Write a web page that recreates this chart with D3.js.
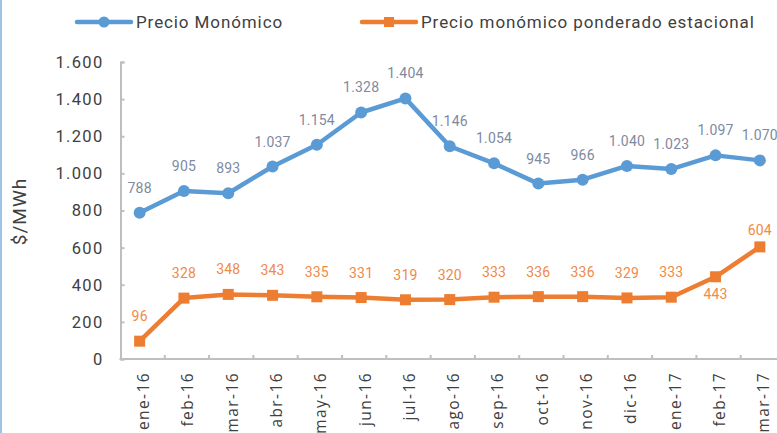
<!DOCTYPE html>
<html>
<head>
<meta charset="utf-8">
<script src="https://cdn.jsdelivr.net/npm/d3@7"></script>
<style>
  body { margin: 0; background: #fff; }
  svg { display: block; }
</style>
</head>
<body>
<svg id="chart"></svg>
<script>
"use strict";

// meses del eje x
var meses = ["ene-16", "feb-16", "mar-16", "abr-16", "may-16", "jun-16", "jul-16", "ago-16",
             "sep-16", "oct-16", "nov-16", "dic-16", "ene-17", "feb-17", "mar-17"];
// $/MWh
var precioMonomico = [788, 905, 893, 1037, 1154, 1328, 1404, 1146, 1054, 945, 966, 1040, 1023, 1097, 1070];
var precioPonderado = [96, 328, 348, 343, 335, 331, 319, 320, 333, 336, 336, 329, 333, 443, 604];
var yTicks = [0, 200, 400, 600, 800, 1000, 1200, 1400, 1600];

var Draw = (function() {

  var width = 777, height = 433;
  var margin = {top: 62, left: 120.5, bottom: 74};
  var blue = "#5b9bd5", orange = "#ed7d31", axisColor = "#bfbfbf", textColor = "#404040";

  var es = d3.formatLocale({decimal: ",", thousands: ".", grouping: [3], currency: ["$", ""]});
  var fmt = es.format(",d");

  var svg = d3.select("#chart")
      .attr("width", width)
      .attr("height", height)
      .style("font-family", "Roboto, sans-serif");

  // borde izquierdo
  svg.append("rect")
      .attr("x", 0).attr("y", 0)
      .attr("width", 2).attr("height", height)
      .attr("fill", "#9dc3e6");

  var x = d3.scaleBand()
      .domain(meses)
      .range([margin.left, margin.left + meses.length * 44.3]);

  var y = d3.scaleLinear()
      .domain([0, 1600])
      .range([height - margin.bottom, margin.top]);

  var px = d => x(d) + x.bandwidth() / 2 - 3;

  // eje y
  var yAxis = svg.append("g")
      .attr("transform", `translate(${margin.left},0)`)
      .call(d3.axisRight(y).tickValues(yTicks).tickSize(4).tickFormat(""));
  yAxis.select(".domain").attr("stroke", axisColor).attr("stroke-width", 2);
  yAxis.selectAll(".tick line").attr("stroke", axisColor).attr("stroke-width", 2);

  svg.append("g").selectAll("text")
    .data(yTicks)
    .join("text")
      .attr("x", 103.5)
      .attr("y", d => y(d))
      .attr("dy", "0.36em")
      .attr("text-anchor", "end")
      .attr("fill", textColor)
      .style("font-size", "16.5px")
      .style("letter-spacing", "1.3px")
      .text(d => fmt(d));

  svg.append("text")
      .attr("transform", `translate(26,${(y(0) + y(1600)) / 2 + 1}) rotate(-90)`)
      .attr("text-anchor", "middle")
      .attr("fill", textColor)
      .style("font-size", "19px")
      .style("letter-spacing", "1px")
      .text("$/MWh");

  // eje x
  var xAxis = svg.append("g")
      .attr("transform", `translate(0,${y(0)})`);
  xAxis.append("line")
      .attr("x1", margin.left - 1).attr("x2", width)
      .attr("stroke", axisColor).attr("stroke-width", 2);
  xAxis.selectAll("line.tk")
    .data(meses.slice(1))
    .join("line")
      .attr("class", "tk")
      .attr("x1", d => x(d)).attr("x2", d => x(d))
      .attr("y1", 0).attr("y2", -4)
      .attr("stroke", axisColor).attr("stroke-width", 2);
  xAxis.selectAll("text")
    .data(meses)
    .join("text")
      .attr("transform", d => `translate(${x(d) + x.bandwidth() / 2 + 1},13) rotate(-90)`)
      .attr("dy", "0.35em")
      .attr("text-anchor", "end")
      .attr("fill", textColor)
      .style("font-family", "'Open Sans', sans-serif")
      .style("font-size", "15.5px")
      .style("letter-spacing", "1.4px")
      .text(d => d);

  var line = d3.line()
      .x((d, i) => px(meses[i]))
      .y(d => y(d));

  // serie azul
  svg.append("path")
      .datum(precioMonomico)
      .attr("fill", "none")
      .attr("stroke", blue)
      .attr("stroke-width", 4.5)
      .attr("stroke-linejoin", "round")
      .attr("d", line);
  svg.append("g").selectAll("circle")
    .data(precioMonomico)
    .join("circle")
      .attr("cx", (d, i) => px(meses[i]))
      .attr("cy", d => y(d))
      .attr("r", 6)
      .attr("fill", blue);

  // serie naranja
  svg.append("path")
      .datum(precioPonderado)
      .attr("fill", "none")
      .attr("stroke", orange)
      .attr("stroke-width", 4.5)
      .attr("stroke-linejoin", "round")
      .attr("d", line);
  svg.append("g").selectAll("rect")
    .data(precioPonderado)
    .join("rect")
      .attr("x", (d, i) => px(meses[i]) - 5.5)
      .attr("y", d => y(d) - 5.5)
      .attr("width", 11)
      .attr("height", 11)
      .attr("fill", orange);

  // etiquetas de datos
  svg.append("g").selectAll("text")
    .data(precioMonomico)
    .join("text")
      .attr("x", (d, i) => px(meses[i]))
      .attr("y", d => y(d) - 20)
      .attr("text-anchor", "middle")
      .attr("fill", "#7f8aa0")
      .style("font-size", "14px")
      .style("letter-spacing", "0.2px")
      .text(d => fmt(d));

  var last = precioPonderado.length - 1;
  svg.append("g").selectAll("text")
    .data(precioPonderado)
    .join("text")
      .attr("x", (d, i) => px(meses[i]))
      .attr("y", (d, i) => i === last - 1 ? y(d) + 22 : i === last ? y(d) - 12 : y(d) - 20)
      .attr("text-anchor", "middle")
      .attr("fill", "#f08a47")
      .style("font-size", "14px")
      .style("letter-spacing", "0.2px")
      .text(d => fmt(d));

  // leyenda
  var legend = [
    {name: "Precio Monómico", color: blue, x0: 77, shape: "circle"},
    {name: "Precio monómico ponderado estacional", color: orange, x0: 362, shape: "square"}
  ];
  var lg = svg.append("g").selectAll("g")
    .data(legend)
    .join("g")
      .attr("transform", d => `translate(${d.x0},22)`);
  lg.append("line")
      .attr("x1", 0).attr("x2", 54)
      .attr("stroke", d => d.color)
      .attr("stroke-width", 4.5)
      .attr("stroke-linecap", "round");
  lg.filter(d => d.shape === "circle").append("circle")
      .attr("cx", 27).attr("r", 5.5)
      .attr("fill", d => d.color);
  lg.filter(d => d.shape === "square").append("rect")
      .attr("x", 22).attr("y", -5).attr("width", 10).attr("height", 10)
      .attr("fill", d => d.color);
  lg.append("text")
      .attr("x", 59)
      .attr("dy", "0.35em")
      .attr("fill", textColor)
      .style("font-size", "17px")
      .style("letter-spacing", "0.9px")
      .text(d => d.name);
});

Draw();
</script>
</body>
</html>
